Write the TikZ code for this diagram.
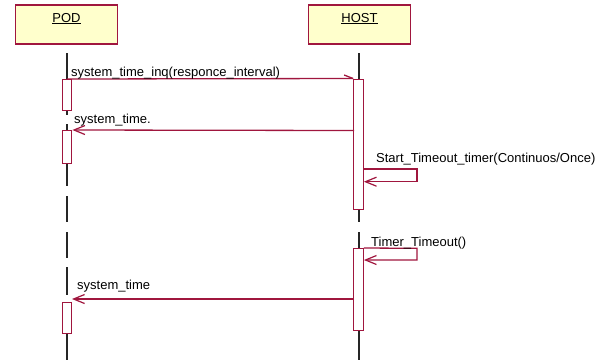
\documentclass[tikz,border=0pt]{standalone}
\usepackage{fontspec}
\setmainfont{Liberation Sans}
\usetikzlibrary{arrows.meta}
\definecolor{umlred}{RGB}{160,22,62}
\definecolor{umlfill}{RGB}{255,255,204}
\tikzset{
  objbox/.style={draw=umlred, line width=1.7pt, fill=umlfill, minimum width=102pt, minimum height=39pt, inner sep=0pt},
  objname/.style={anchor=base, inner sep=0pt, font=\fontsize{13}{15}\selectfont},
  actbox/.style={draw=umlred, line width=1.3pt, fill=white, minimum width=9.5pt, inner sep=0pt, anchor=north},
  life/.style={draw=black!85, line width=1.3pt},
  msg/.style={draw=umlred, line width=1.3pt},
  reply/.style={msg, -{Straight Barb[length=11pt, width=9pt, line width=1.2pt]}},
  msglabel/.style={anchor=base west, inner sep=0pt, font=\fontsize{13}{15}\selectfont}
}
\begin{document}
\begin{tikzpicture}[x=1pt, y=-1pt]
\useasboundingbox (0,0) rectangle (612,360);

% object boxes
\node[objbox] (pod) at (66.5,24.5) {};
\node[objname] (podname) at (66.5,22) {\underline{POD}};
\node[objbox] (host) at (359.5,24.8) {};
\node[objname] (hostname) at (359.5,22) {\underline{HOST}};

% lifelines (dashed, drawn segment by segment)
\foreach \a/\b in {53/79, 110/115, 124/130, 163/186, 196/222, 232/258, 267/295, 333/360}
  \draw[life] (67,\a) -- (67,\b);
\foreach \a/\b in {53/78.5, 209/222, 232/248, 330/360}
  \draw[life] (359,\a) -- (359,\b);

% activation boxes
\node[actbox, minimum height=31pt] (podA1) at (67,79) {};
\node[actbox, minimum height=33pt] (podA2) at (67,130) {};
\node[actbox, minimum height=31pt] (podA3) at (67,302) {};
\node[actbox, minimum height=130.5pt] (hostA1) at (358.5,78.5) {};
\node[actbox, minimum height=82pt] (hostA2) at (358.5,248) {};

% system_time_inq(responce_interval)
\draw[msg] (podA1.north) -- (hostA1.north west);
\draw[msg] (hostA1.north west) -- ++(-9,-3.5);
\node[msglabel] (l1) at (71,76) {system\_time\_inq(responce\_interval)};

% system_time. (reply)
\coordinate (r1s) at (354,130.5);
\draw[reply] (r1s) -- (podA2.north east);
\node[msglabel] (l2) at (74,123.5) {system\_time.};

% Start_Timeout_timer self call
\coordinate (s1a) at (417,169);
\coordinate (s1b) at (417,181.7);
\draw[reply] (hostA1.east |- s1a) -- (s1a) -- (s1b) -- (hostA1.east |- s1b);
\node[msglabel] (l3) at (376,162.5) {Start\_Timeout\_timer(Continuos/Once)};

% Timer_Timeout self call
\coordinate (s2a) at (417,248.3);
\coordinate (s2b) at (417,260);
\draw[reply] (hostA2.north east) -- (s2a) -- (s2b) -- (hostA2.east |- s2b);
\node[msglabel] (l4) at (371,246) {Timer\_Timeout()};

% system_time (reply)
\coordinate (r2s) at (354,299);
\coordinate (r2e) at (72,299);
\draw[reply] (r2s) -- (r2e);
\node[msglabel] (l5) at (77,289) {system\_time};
\end{tikzpicture}
\end{document}
